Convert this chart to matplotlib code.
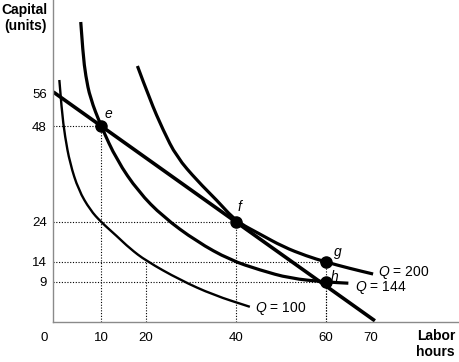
import matplotlib
matplotlib.use("Agg")
import matplotlib.pyplot as plt
from matplotlib.path import Path
from matplotlib.patches import PathPatch
from matplotlib.transforms import ScaledTranslation

plt.rcParams["font.family"] = ["Liberation Sans", "DejaVu Sans"]
plt.rcParams["mathtext.fontset"] = "custom"
plt.rcParams["mathtext.rm"] = "Liberation Sans"
plt.rcParams["mathtext.it"] = "Liberation Sans:italic"

# isoquants (labor hours, capital units)
q100_L = [0.74, 1.26, 2.0, 3.1, 5.0, 7.6, 10.0, 13.5, 16.4, 20.0, 27.6, 35.0, 43.1]
q100_K = [59.5, 52.0, 45.3, 38.7, 32.0, 27.0, 24.0, 20.5, 17.4, 14.3, 9.5, 5.75, 2.8]

q144_L = [5.5, 6.0, 6.6, 7.6, 10.0, 13.5, 18.3, 23.8, 31.3, 38.7, 45.3, 52.0, 60.0, 65.0]
q144_K = [74.0, 66.0, 60.5, 55.0, 48.0, 39.5, 31.6, 25.3, 19.1, 14.5, 12.0, 9.9, 9.0, 8.7]

q200_L = [18.1, 20.9, 23.8, 26.8, 31.5, 35.7, 40.0, 45.3, 50.5, 55.7, 60.0, 65.3, 70.5]
q200_K = [63.0, 54.5, 47.0, 40.3, 34.2, 29.5, 24.2, 21.0, 17.8, 15.5, 14.0, 12.4, 11.0]

# isocost line
cost_L = [-0.6, 70.9]
cost_K = [56.5, -0.7]

# labelled points
pt_names = ["e", "f", "g", "h"]
pt_L = [10, 40, 60, 60]
pt_K = [48, 24, 14, 9]

x_ticks = [0, 10, 20, 40, 60, 70]
y_ticks = [9, 14, 24, 48, 56]


def smooth_curve(ax, xs, ys, lw):
    # quadratic bezier through the read points, drawn by matplotlib's path renderer
    pts = list(zip(xs, ys))
    verts = [pts[0]]
    codes = [Path.MOVETO]
    for i in range(1, len(pts) - 1):
        mid = ((pts[i][0] + pts[i + 1][0]) / 2, (pts[i][1] + pts[i + 1][1]) / 2)
        verts += [pts[i], mid]
        codes += [Path.CURVE3, Path.CURVE3]
    verts.append(pts[-1])
    codes.append(Path.LINETO)
    ax.add_patch(PathPatch(Path(verts, codes), fill=False, lw=lw, edgecolor="black",
                           capstyle="butt", joinstyle="round"))


fig = plt.figure(figsize=(4.59, 3.62), dpi=100)
ax = fig.add_axes([53 / 459, 40 / 362, 406 / 459, 322 / 362])

# dotted guides
for L, K in zip(pt_L, pt_K):
    ax.plot([-0.67, L], [K, K], color="black", lw=0.8, ls=(0, (1, 1.5)))
    ax.plot([L, L], [-1.0, K], color="black", lw=0.8, ls=(0, (1, 1.5)))
ax.plot([20, 20], [-1.0, 14], color="black", lw=0.8, ls=(0, (1, 1.5)))

smooth_curve(ax, q100_L, q100_K, 1.7)
smooth_curve(ax, q144_L, q144_K, 2.3)
smooth_curve(ax, q200_L, q200_K, 2.3)
ax.plot(cost_L, cost_K, color="black", lw=2.6, solid_capstyle="butt")

ax.plot(pt_L, pt_K, "o", color="black", ms=8, zorder=5)
offsets = {"e": (1.6, 3.0), "f": (0.7, 3.7), "g": (2.7, 2.5), "h": (2.0, 1.3)}
for name, L, K in zip(pt_names, pt_L, pt_K):
    dx, dy = offsets[name]
    ax.text(L + dx, K + dy, name, fontsize=10, style="italic", ha="center", va="center")

ax.text(71.6, 11.3, "$Q$ = 200", fontsize=10, va="center", ha="left")
ax.text(66.4, 7.75, "$Q$ = 144", fontsize=10, va="center", ha="left")
ax.text(44.2, 2.3, "$Q$ = 100", fontsize=10, va="center", ha="left")

for side in ["top", "right"]:
    ax.spines[side].set_visible(False)
for side in ["left", "bottom"]:
    ax.spines[side].set_color("#8a8a8a")
    ax.spines[side].set_linewidth(1.0)

ax.set_xticks(x_ticks)
ax.set_xticklabels([str(v) for v in x_ticks])
ax.set_yticks(y_ticks)
ax.set_yticklabels([str(v) for v in y_ticks])
ax.tick_params(axis="both", length=0, labelsize=9.5)
ax.tick_params(axis="x", pad=7)
ax.tick_params(axis="y", pad=4.5)
ax.set_xlim(-0.67, 89.6)
ax.set_ylim(-1.0, 79.5)

# the "0" sits left of the corner in the original
zero_lbl = ax.get_xticklabels()[0]
zero_lbl.set_transform(zero_lbl.get_transform() + ScaledTranslation(-12 / 100, 0, fig.dpi_scale_trans))

fig.text(47 / 459, 1 - 3 / 362, "Capital\n(units)", fontsize=10, fontweight="bold",
         ha="right", va="top", linespacing=1.15)
fig.text(455 / 459, 1 - 329 / 362, "Labor\nhours", fontsize=10, fontweight="bold",
         ha="right", va="top", linespacing=1.15)

fig.savefig("out.png", dpi=100)
